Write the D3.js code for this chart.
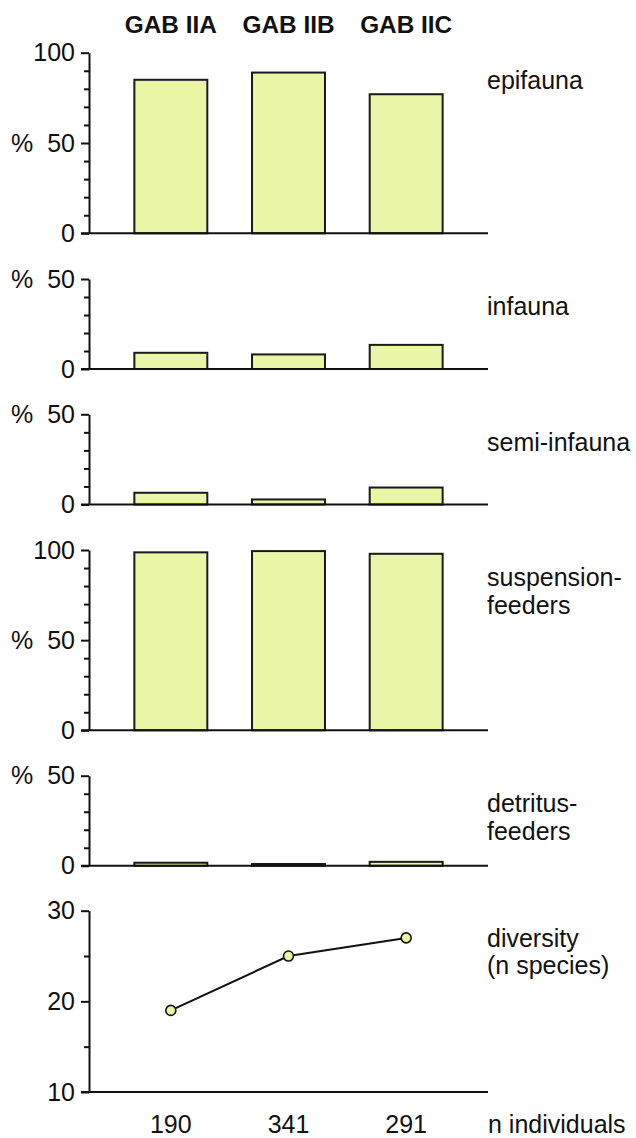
<!DOCTYPE html>
<html>
<head>
<meta charset="utf-8">
<script src="https://cdnjs.cloudflare.com/ajax/libs/d3/7.8.5/d3.min.js"></script>
<style>
  body { margin: 0; background: #fff; }
  svg text { font-family: "Liberation Sans", Arial, sans-serif; fill: #111; }
</style>
</head>
<body>
<div id="chart"></div>
<script>
// data
const categories = ['GAB IIA', 'GAB IIB', 'GAB IIC'];
const epifauna = [85, 89, 77];
const infauna = [9, 8.1, 13.4];
const semiInfauna = [6.5, 2.8, 9.4];
const suspensionFeeders = [98.7, 99.4, 97.9];
const detritusFeeders = [1.7, 1, 2.2];
const diversity = [19, 25, 27];
const nIndividuals = ['190', '341', '291'];

const width = 636;
const height = 1138;
const axisX = 89;
const lineEnd = 488;
const labelX = 487;

let svg = d3.select('#chart')
  .append('svg')
  .attr('width', width)
  .attr('height', height);

let x = d3.scaleBand()
  .domain(categories)
  .range([112, 465])
  .paddingInner(0.38)
  .paddingOuter(0.19);

// panels: top / zero position, domain, label lines
const panels = [
  { values: epifauna, top: 52.7, bottom: 233.3, max: 100, label: ['epifauna'], labelY: 89 },
  { values: infauna, top: 279, bottom: 369, max: 50, label: ['infauna'], labelY: 315 },
  { values: semiInfauna, top: 414.3, bottom: 504.5, max: 50, label: ['semi-infauna'], labelY: 450.7 },
  { values: suspensionFeeders, top: 550, bottom: 730.3, max: 100, label: ['suspension-', 'feeders'], labelY: 586 },
  { values: detritusFeeders, top: 775.7, bottom: 865.8, max: 50, label: ['detritus-', 'feeders'], labelY: 812.3 }
];

function drawLabel(lines, y) {
  let t = svg.append('text')
    .attr('x', labelX)
    .attr('y', y)
    .style('font-size', '25px');
  lines.forEach(function(l, i) {
    t.append('tspan').attr('x', labelX).attr('dy', i ? 27.5 : 0).text(l);
  });
}

function drawAxis(y, major, minor, fmt) {
  // minor ticks first, then major with labels
  let g = svg.append('g').attr('transform', 'translate(' + axisX + ',0)');
  g.append('g')
    .call(d3.axisLeft(y).tickValues(minor).tickSize(5).tickFormat(''))
    .call(function(s) { s.select('.domain').remove(); });
  g.append('g')
    .call(d3.axisLeft(y).tickValues(major).tickSize(8).tickSizeOuter(0).tickPadding(6).tickFormat(fmt));
  g.selectAll('path, line').attr('stroke', '#111').attr('stroke-width', 2);
  g.selectAll('text').style('font-size', '25px').attr('fill', '#111');
  // baseline
  svg.append('line')
    .attr('x1', axisX - 8).attr('x2', lineEnd)
    .attr('y1', y.range()[0]).attr('y2', y.range()[0])
    .attr('stroke', '#111').attr('stroke-width', 2);
  return g;
}

// column headers
svg.selectAll('.head')
  .data(categories)
  .enter()
  .append('text')
  .attr('class', 'head')
  .attr('text-anchor', 'middle')
  .attr('transform', function(d) {
    return 'translate(' + (x(d) + x.bandwidth() / 2) + ',32.5) scale(1.06,1)';
  })
  .style('font-size', '23px')
  .style('font-weight', 'bold')
  .text(function(d) { return d; });

panels.forEach(function(p) {
  let y = d3.scaleLinear().domain([0, p.max]).range([p.bottom, p.top]);
  let major = p.max === 100 ? [0, 50, 100] : [0, 50];
  let minor = d3.range(10, p.max, 10).filter(function(v) { return v !== 50; });

  svg.append('g')
    .selectAll('rect')
    .data(p.values)
    .enter()
    .append('rect')
    .attr('x', function(d, i) { return x(categories[i]); })
    .attr('y', function(d) { return y(d); })
    .attr('width', x.bandwidth())
    .attr('height', function(d) { return y(0) - y(d); })
    .attr('fill', '#ebf5a6')
    .attr('stroke', '#1a1a1a')
    .attr('stroke-width', 2);

  drawAxis(y, major, minor, d3.format('d'));

  // % sign sits next to the 50 label
  svg.append('text')
    .attr('x', 11)
    .attr('y', y(50))
    .attr('dy', '0.34em')
    .style('font-size', '25px')
    .text('%');

  drawLabel(p.label, p.labelY);
});

// diversity panel
let yDiv = d3.scaleLinear().domain([10, 30]).range([1092, 910.7]);

let line = d3.line()
  .x(function(d, i) { return x(categories[i]) + x.bandwidth() / 2; })
  .y(function(d) { return yDiv(d); });

svg.append('path')
  .datum(diversity)
  .attr('d', line)
  .attr('fill', 'none')
  .attr('stroke', '#111')
  .attr('stroke-width', 2);

svg.append('g')
  .selectAll('circle')
  .data(diversity)
  .enter()
  .append('circle')
  .attr('cx', function(d, i) { return x(categories[i]) + x.bandwidth() / 2; })
  .attr('cy', function(d) { return yDiv(d); })
  .attr('r', 5)
  .attr('fill', '#eef5a0')
  .attr('stroke', '#111')
  .attr('stroke-width', 1.6);

drawAxis(yDiv, [10, 20, 30], [15, 25], d3.format('d'));
drawLabel(['diversity', '(n species)'], 946.5);

// n individuals under each column
svg.selectAll('.nind')
  .data(nIndividuals)
  .enter()
  .append('text')
  .attr('class', 'nind')
  .attr('text-anchor', 'middle')
  .attr('x', function(d, i) { return x(categories[i]) + x.bandwidth() / 2; })
  .attr('y', 1133)
  .style('font-size', '25px')
  .text(function(d) { return d; });

svg.append('text')
  .attr('x', 488)
  .attr('y', 1133)
  .style('font-size', '25px')
  .text('n individuals');
</script>
</body>
</html>
